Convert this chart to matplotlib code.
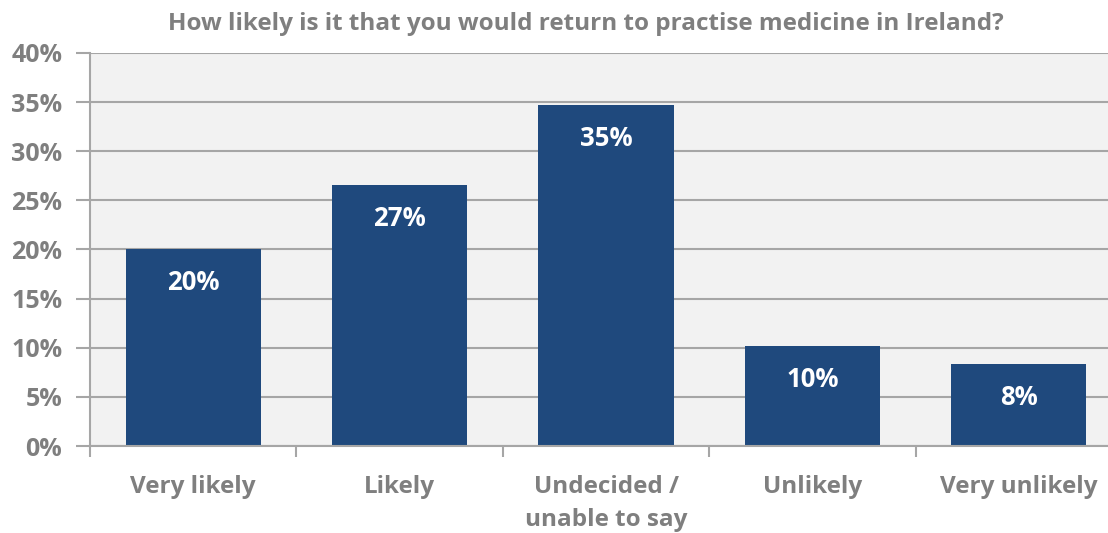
import numpy as np
import matplotlib.pyplot as plt
from matplotlib.ticker import FuncFormatter, FixedLocator

plt.rcParams['font.family'] = ['Open Sans', 'DejaVu Sans']

# survey responses (share of respondents, %)
categories = ['Very likely', 'Likely', 'Undecided /\nunable to say', 'Unlikely', 'Very unlikely']
shares = [20.05, 26.56, 34.7, 10.18, 8.35]

title = 'How likely is it that you would return to practise medicine in Ireland?'

bar_color = '#1F497D'
text_grey = '#7F7F7F'
grid_grey = '#A6A6A6'

fig = plt.figure(figsize=(11.08, 5.33), dpi=100)
ax = fig.add_axes([90 / 1108, 87 / 533, 1032 / 1108, 393 / 533])
ax.set_facecolor('#F2F2F2')

x = np.arange(len(categories))
bars = ax.bar(x, shares, width=0.655, color=bar_color, zorder=3)

for b, v in zip(bars, shares):
    ax.annotate(f'{v:.0f}%', (b.get_x() + b.get_width() / 2, v),
                xytext=(0, -24), textcoords='offset points',
                ha='center', va='center', color='white',
                fontsize=18.5, fontweight='bold', zorder=4)

ax.set_xlim(-0.5, len(categories) - 0.5)
ax.set_ylim(0, 40)
ax.set_yticks(np.arange(0, 41, 5))
ax.yaxis.set_major_formatter(FuncFormatter(lambda v, _: f'{v:.0f}%'))
ax.grid(axis='y', color=grid_grey, linewidth=1.5, zorder=1)

ax.set_xticks(x)
ax.set_xticklabels(categories, linespacing=1.5)
ax.xaxis.set_minor_locator(FixedLocator(np.arange(-0.5, len(categories), 1)))
ax.tick_params(axis='x', which='major', length=0, pad=21,
               labelsize=17.5, labelcolor=text_grey)
ax.tick_params(axis='x', which='minor', length=8, width=1.5, color=grid_grey)
ax.tick_params(axis='y', length=10, width=1.5, color=grid_grey, pad=10,
               labelsize=18, labelcolor=text_grey)
for lab in ax.get_xticklabels() + ax.get_yticklabels():
    lab.set_fontweight('bold')

for side in ('top', 'right'):
    ax.spines[side].set_visible(False)
for side in ('left', 'bottom'):
    ax.spines[side].set_color(grid_grey)
    ax.spines[side].set_linewidth(1.5)
    ax.spines[side].set_zorder(5)

fig.text(586 / 1108, 1 - 24 / 533, title, ha='center', va='center',
         fontsize=17.5, fontweight='bold', color=text_grey)

fig.savefig('out.png', dpi=100)
